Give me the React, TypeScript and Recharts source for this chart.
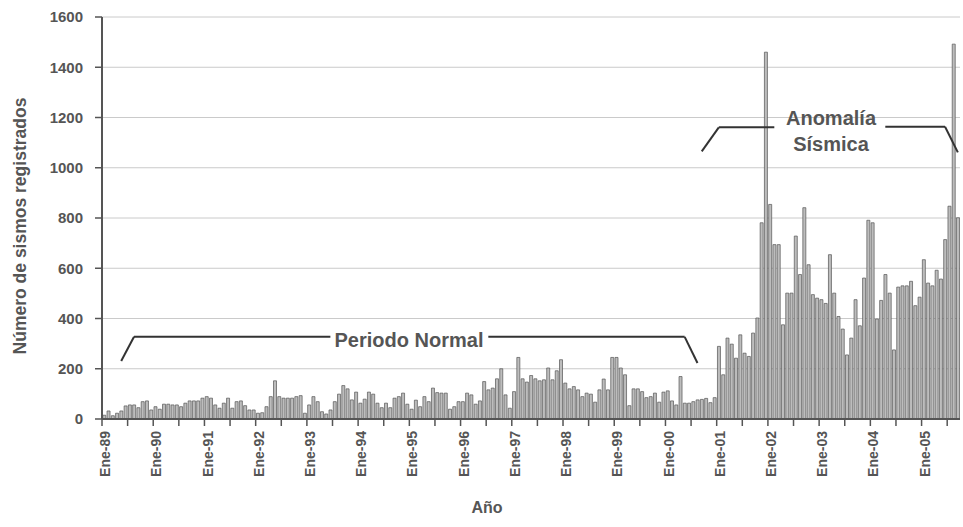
import React from "react";
import {
  BarChart,
  Bar,
  XAxis,
  YAxis,
  CartesianGrid,
  ReferenceLine,
} from "recharts";

// monthly counts
const y1989 = [15, 32, 13, 23, 32, 52, 56, 56, 45, 69, 72, 36];
const y1990 = [49, 39, 59, 59, 56, 56, 49, 63, 72, 72, 72, 83];
const y1991 = [89, 83, 56, 43, 63, 83, 43, 69, 72, 53, 36, 36];
const y1992 = [23, 25, 49, 89, 152, 89, 83, 83, 83, 89, 93, 23];
const y1993 = [56, 89, 69, 29, 20, 36, 69, 99, 133, 120, 76, 107];
const y1994 = [63, 79, 107, 99, 63, 45, 63, 45, 83, 89, 103, 59];
const y1995 = [39, 75, 49, 89, 69, 123, 105, 103, 103, 39, 49, 69];
const y1996 = [69, 103, 96, 59, 72, 149, 116, 123, 160, 200, 96, 43];
const y1997 = [109, 245, 160, 147, 173, 160, 152, 156, 203, 156, 192, 236];
const y1998 = [143, 120, 129, 116, 89, 103, 99, 67, 116, 159, 116, 245];
const y1999 = [245, 203, 176, 53, 120, 120, 109, 85, 89, 103, 67, 107];
const y2000 = [112, 72, 56, 169, 63, 63, 69, 76, 78, 82, 65, 85];
const y2001 = [289, 176, 322, 298, 242, 335, 262, 249, 342, 402, 781, 1460];
const y2002 = [854, 694, 694, 375, 501, 501, 728, 575, 841, 614, 495, 481];
const y2003 = [475, 460, 654, 501, 408, 358, 255, 322, 475, 371, 561, 791];
const y2004 = [781, 398, 472, 575, 501, 275, 525, 530, 530, 548, 451, 485];
const y2005 = [634, 541, 530, 592, 557, 714, 847, 1492, 801];

const years = ["89", "90", "91", "92", "93", "94", "95", "96", "97", "98", "99", "00", "01", "02", "03", "04", "05"];
const yearValues = [y1989, y1990, y1991, y1992, y1993, y1994, y1995, y1996, y1997, y1998, y1999, y2000, y2001, y2002, y2003, y2004, y2005];
const monthNames = ["Ene", "Feb", "Mar", "Abr", "May", "Jun", "Jul", "Ago", "Sep", "Oct", "Nov", "Dic"];
const yTicks = [0, 200, 400, 600, 800, 1000, 1200, 1400, 1600];

const data = yearValues.flatMap((vals, yi) =>
  vals.map((v, mi) => ({ mes: `${monthNames[mi]}-${years[yi]}`, sismos: v }))
);
const cat = (i: number) => data[i].mes;

const W = 963;
const H = 527;
const LEFT = 102;
const RIGHT = 3;
const TOP = 17;
const XAXIS_H = 108;
const BAND = (W - LEFT - RIGHT) / data.length;

const FONT = '"Liberation Sans", Arial, sans-serif';
const TXT = "#555";
const LINE = "#333";

// bracket annotations (month index, value)
const brackets: [number, number, number, number][] = [
  [4, 231, 7, 327],
  [7, 327, 53, 327],
  [90, 327, 136, 327],
  [136, 327, 139, 223],
  [140, 1065, 144, 1161],
  [144, 1161, 157, 1161],
  [183, 1163, 197, 1163],
  [197, 1163, 200, 1061],
];

const MonthTick = (props: any) => {
  const { x, y, index } = props;
  return (
    <g>
      {index % 6 === 0 && (
        <line x1={x - BAND / 2} x2={x - BAND / 2} y1={y} y2={y + 7} stroke={TXT} strokeWidth={1.5} />
      )}
      {index % 12 === 0 && (
        <text
          transform={`translate(${x + 6},${y + 12}) rotate(-90)`}
          textAnchor="end"
          fontSize={14}
          fontWeight="bold"
          fontFamily={FONT}
          fill={TXT}
        >
          {props.payload.value}
        </text>
      )}
    </g>
  );
};

export default function App() {
  return (
    <div style={{ position: "absolute", left: 0, top: 0, width: W, height: H, background: "#fff" }}>
      <BarChart
        width={W}
        height={H}
        data={data}
        margin={{ top: TOP, right: RIGHT, left: 0, bottom: 0 }}
        barCategoryGap="18%"
      >
        <CartesianGrid vertical={false} stroke="#cacaca" />
        <XAxis
          dataKey="mes"
          interval={0}
          height={XAXIS_H}
          tickLine={false}
          tickSize={0}
          tickMargin={0}
          axisLine={{ stroke: TXT, strokeWidth: 2 }}
          tick={<MonthTick />}
          label={{
            content: () => (
              <text x={487} y={513} textAnchor="middle" fontSize={16} fontWeight="bold" fontFamily={FONT} fill={TXT}>
                Año
              </text>
            ),
          }}
        />
        <YAxis
          width={LEFT}
          domain={[0, 1600]}
          ticks={yTicks}
          interval={0}
          tickSize={7}
          tickMargin={12}
          tickLine={{ stroke: TXT, strokeWidth: 1.5 }}
          axisLine={{ stroke: TXT, strokeWidth: 2 }}
          tick={{ fontSize: 15, fontWeight: "bold", fontFamily: FONT, fill: TXT }}
          label={{
            content: () => (
              <text
                transform="translate(26,226) rotate(-90)"
                textAnchor="middle"
                fontSize={17.5}
                fontWeight="bold"
                fontFamily={FONT}
                fill={TXT}
              >
                Número de sismos registrados
              </text>
            ),
          }}
        />
        <Bar dataKey="sismos" fill="#bdbdbd" stroke="#555" strokeWidth={0.7} isAnimationActive={false} />
        {brackets.map(([a, va, b, vb], i) => (
          <ReferenceLine
            key={i}
            segment={[
              { x: cat(a), y: va },
              { x: cat(b), y: vb },
            ]}
            stroke={LINE}
            strokeWidth={2}
          />
        ))}
      </BarChart>
      <svg width={W} height={H} style={{ position: "absolute", left: 0, top: 0, pointerEvents: "none" }}>
        <g fontFamily={FONT} fontWeight="bold" fill={TXT} fontSize={20} textAnchor="middle">
          <text x={409} y={347}>Periodo Normal</text>
          <text x={831} y={125}>Anomalía</text>
          <text x={831} y={151}>Sísmica</text>
        </g>
      </svg>
    </div>
  );
}
